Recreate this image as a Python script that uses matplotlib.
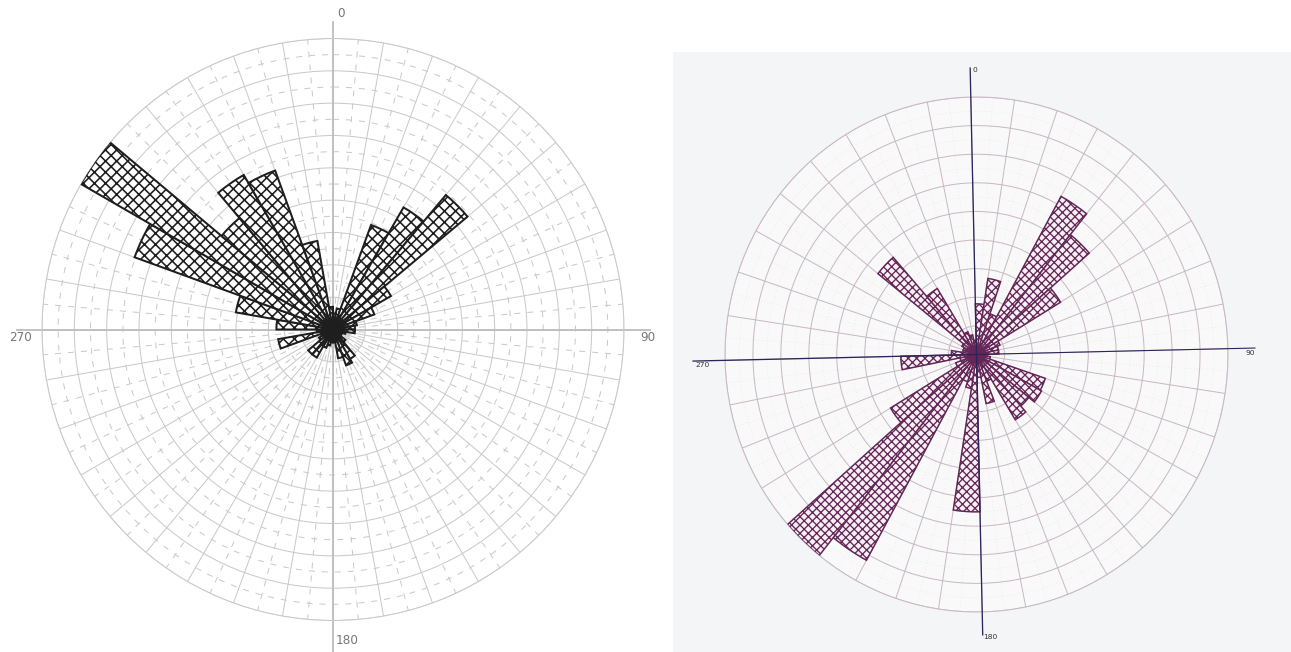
import numpy as np
import matplotlib
matplotlib.use("Agg")
import matplotlib.pyplot as plt
from matplotlib.patches import Rectangle

# ---------------- data ----------------
left_centers_deg = list(range(5, 360, 10))
left_values = [0.5, 0.66, 3.44, 4.36, 5.43, 2.07, 1.36, 0.75, 0.68, 0.68,
               0.4, 0.3, 0.3, 0.5, 1.05, 1.18, 0.9, 0.4, 0.4, 0.5,
               0.6, 1.0, 1.0, 0.5, 0.4, 1.72, 0.5, 1.75, 3.05, 6.53,
               9.0, 4.5, 5.52, 5.23, 2.78, 0.7]

right_centers_deg = list(range(5, 360, 10))
right_values = [1.77, 2.69, 1.5, 6.3, 5.37, 3.52, 0.9, 0.8, 0.8, 0.4,
                0.5, 2.6, 2.65, 2.4, 2.67, 1.0, 1.75, 0.8, 5.5, 1.2,
                1.0, 8.2, 9.0, 3.6, 0.8, 0.6, 2.71, 0.9, 0.5, 0.5,
                0.6, 4.52, 2.7, 0.85, 0.7, 0.5]

axis_labels = ["0", "90", "180", "270"]
r_max = 9

# ---------------- figure ----------------
DPI = 100
W, H = 1291, 652
fig = plt.figure(figsize=(W / DPI, H / DPI), dpi=DPI)
fig.patch.set_facecolor("white")


def fx(x):
    return x / W


def fy(y):
    return 1 - y / H


def pt(px):
    return px * 72 / DPI


# ============ LEFT CHART ============
lcx, lcy, lR = 333, 329.5, 291
axL = fig.add_axes([fx(lcx - lR), fy(lcy + lR), 2 * lR / W, 2 * lR / H],
                   projection="polar")
axL.set_theta_zero_location("N")
axL.set_theta_direction(-1)
axL.set_ylim(0, r_max)
axL.set_xticks(np.deg2rad(np.arange(0, 360, 10)))
axL.set_xticks(np.deg2rad(np.arange(5, 360, 10)), minor=True)
axL.set_yticks(np.arange(1, r_max + 1, 1))
axL.set_yticks(np.arange(0.5, r_max, 1), minor=True)
axL.set_xticklabels([])
axL.set_yticklabels([])
axL.tick_params(which="both", length=0)
gcol = "#c9c9c9"
axL.grid(True, which="major", color=gcol, lw=pt(1.0), ls="-")
axL.grid(True, which="minor", color=gcol, lw=pt(1.0), ls=(0, (6, 7)))
axL.spines["polar"].set_color(gcol)
axL.spines["polar"].set_linewidth(pt(1.0))
axL.set_axisbelow(True)
axL.patch.set_alpha(0)

barsL = axL.bar(np.deg2rad(left_centers_deg), left_values, width=np.deg2rad(10),
                bottom=0, facecolor="white", edgecolor="#1e1e1e",
                linewidth=pt(2.0), hatch="xxx", zorder=3)
for b in barsL:
    if hasattr(b, "set_hatch_linewidth"):
        b.set_hatch_linewidth(pt(1.6))

# axis cross
acol = "#bdbdbd"
axL.plot([0, 0], [0, (lcy - 22) / lR * r_max], color=acol, lw=pt(1.8),
         clip_on=False, zorder=2)
axL.plot([np.pi, np.pi], [0, (H - lcy) / lR * r_max], color=acol, lw=pt(1.8),
         clip_on=False, zorder=2)
axL.plot([np.pi / 2, np.pi / 2], [0, (650 - lcx) / lR * r_max], color=acol,
         lw=pt(1.8), clip_on=False, zorder=2)
axL.plot([1.5 * np.pi, 1.5 * np.pi], [0, (lcx - 17) / lR * r_max], color=acol,
         lw=pt(1.8), clip_on=False, zorder=2)

lfs = pt(12)
tcol = "#777777"
fig.text(fx(337), fy(20), axis_labels[0], ha="left", va="bottom",
         fontsize=lfs, color=tcol)
fig.text(fx(655), fy(331), axis_labels[1], ha="right", va="top",
         fontsize=lfs, color=tcol)
fig.text(fx(336), fy(634), axis_labels[2], ha="left", va="top",
         fontsize=lfs, color=tcol)
fig.text(fx(9), fy(331), axis_labels[3], ha="left", va="top",
         fontsize=lfs, color=tcol)

# ============ RIGHT CHART ============
bg = fig.add_axes([fx(673), fy(652), (W - 673) / W, (652 - 52) / H])
bg.set_xlim(0, 1)
bg.set_ylim(0, 1)
bg.axis("off")
bg.add_patch(Rectangle((0, 0), 1, 1, facecolor="#f4f5f7", edgecolor="none"))

rcx, rcy, rRx, rRy = 976.5, 354.5, 251.5, 257.5
axR = fig.add_axes([fx(rcx - rRx), fy(rcy + rRy), 2 * rRx / W, 2 * rRy / H],
                   projection="polar")
axR.set_aspect("auto")
rot = 1.3
axR.set_theta_offset(np.pi / 2 + np.deg2rad(rot))
axR.set_theta_direction(-1)
axR.set_ylim(0, r_max)
axR.set_xticks(np.deg2rad(np.arange(0, 360, 10)))
axR.set_xticks(np.deg2rad(np.arange(5, 360, 10)), minor=True)
axR.set_yticks(np.arange(1, r_max + 1, 1))
axR.set_yticks(np.arange(0.5, r_max, 1), minor=True)
axR.set_xticklabels([])
axR.set_yticklabels([])
axR.tick_params(which="both", length=0)
rg = "#c8b9c3"
axR.grid(True, which="major", color=rg, lw=pt(1.0), ls="-")
axR.grid(True, which="minor", color="#ebe5e9", lw=pt(0.8), ls=(0, (1, 3)))
axR.spines["polar"].set_color(rg)
axR.spines["polar"].set_linewidth(pt(1.0))
axR.set_axisbelow(True)
axR.patch.set_facecolor("#f9f9fa")

pcol = "#632656"
barsR = axR.bar(np.deg2rad(right_centers_deg), right_values, width=np.deg2rad(10),
                bottom=0, facecolor="#f6eff4", edgecolor=pcol,
                linewidth=pt(1.5), hatch="xxxx", zorder=3)
for b in barsR:
    if hasattr(b, "set_hatch_linewidth"):
        b.set_hatch_linewidth(pt(1.3))

ncol = "#2b2458"
axR.plot([0, 0], [0, (rcy - 68) / rRy * r_max], color=ncol, lw=pt(1.3),
         clip_on=False, zorder=4)
axR.plot([np.pi, np.pi], [0, (635 - rcy) / rRy * r_max], color=ncol,
         lw=pt(1.3), clip_on=False, zorder=4)
axR.plot([np.pi / 2, np.pi / 2], [0, (1255 - rcx) / rRx * r_max], color=ncol,
         lw=pt(1.1), clip_on=False, zorder=4)
axR.plot([1.5 * np.pi, 1.5 * np.pi], [0, (rcx - 693) / rRx * r_max],
         color=ncol, lw=pt(1.3), clip_on=False, zorder=4)

rfs = pt(7.5)
rtc = "#333333"
fig.text(fx(975), fy(70), axis_labels[0], ha="center", va="center",
         fontsize=rfs, color=rtc)
fig.text(fx(1250), fy(353), axis_labels[1], ha="center", va="center",
         fontsize=rfs, color=rtc)
fig.text(fx(983), fy(637), axis_labels[2], ha="left", va="center",
         fontsize=rfs, color=rtc)
fig.text(fx(695), fy(365), axis_labels[3], ha="left", va="center",
         fontsize=rfs, color=rtc)

fig.savefig("out.png", dpi=DPI)
